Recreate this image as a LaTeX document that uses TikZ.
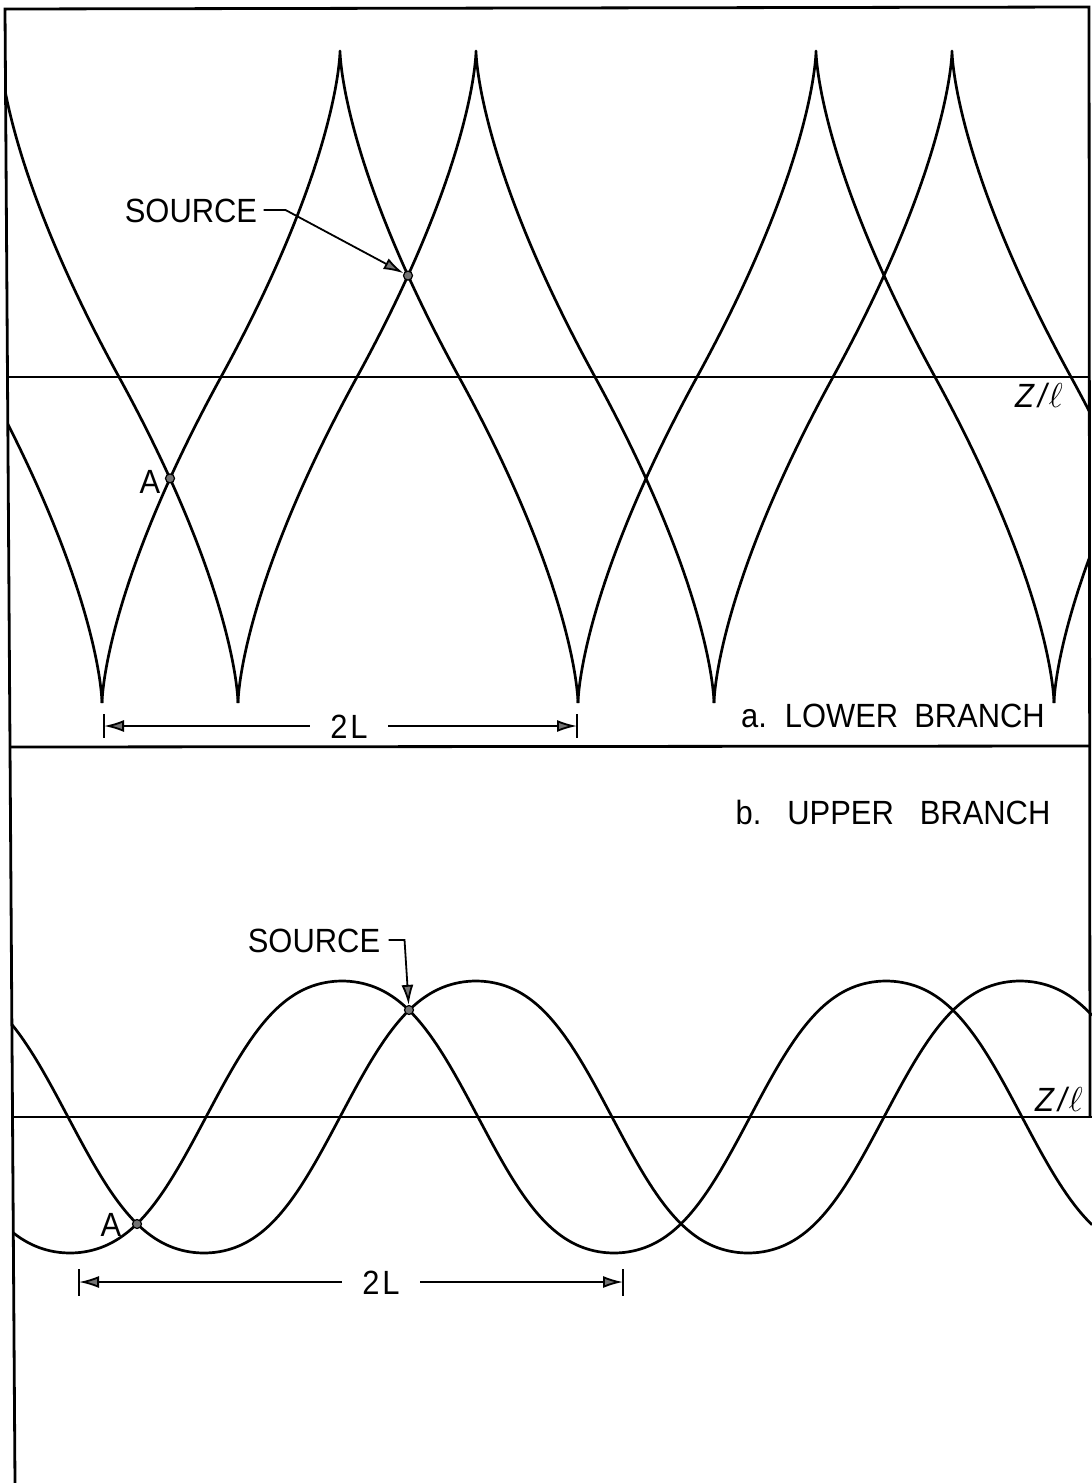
\documentclass[tikz,border=0pt]{standalone}
\usepackage{fontspec}
\setmainfont{Liberation Sans}[FakeStretch=0.92]
\usetikzlibrary{arrows.meta}
\tikzset{
  curve/.style={line width=1.35pt, line join=round},
  frame/.style={line width=1.4pt, line join=miter},
  zaxis/.style={line width=1pt},
  lbl/.style={inner sep=0pt, font=\fontsize{16.8}{18}\selectfont, text height=12pt, text depth=0pt},
  dimlbl/.style={lbl, inner xsep=10pt},
  lead/.style={line width=0.9pt, -{Latex[length=10pt,width=6pt,fill=black!55]}},
  dimline/.style={line width=0.9pt, -{Latex[length=10pt,width=6pt,fill=black!55]}},
  tickmark/.style={line width=1pt},
  crossdot/.style={circle, fill=black!55, draw=black, line width=0.6pt, inner sep=0pt, minimum size=4.5pt},
}
% one cuspidal arch: top cusp at x=#1 (y=51), bottom cusps at x=#1-238 and #1+238 (y=703)
\newcommand\cusparch[1]{%
  \draw[curve] ({#1-238},703) .. controls ({#1-238},703) and ({#1-238},594.33) .. ({#1-119},377)
    .. controls ({#1},159.67) and ({#1},51) .. ({#1},51)
    .. controls ({#1},51) and ({#1},159.67) .. ({#1+119},377)
    .. controls ({#1+238},594.33) and ({#1+238},703) .. ({#1+238},703);}
\begin{document}
\begin{tikzpicture}[x=0.5pt,y=-0.5pt]
\useasboundingbox (0,0) rectangle (1092,1483);
% frame
\coordinate (TL) at (5,9);
\coordinate (TR) at (1089,7);
\coordinate (BL) at (15,1483);
\coordinate (DL) at (10,747);
\coordinate (DR) at (1090,746);
\coordinate (RB) at (1090,1117);
\coordinate (CR) at (1092,747);
\coordinate (CB) at (1092,1483);
\draw[frame] (BL) -- (TL) -- (TR) -- (RB);
\draw[frame] (DL) -- (DR);
% axis lines
\coordinate (ZaL) at (6.2,377);
\coordinate (ZaR) at (1090,377);
\draw[zaxis] (ZaL) -- (ZaR);
\coordinate (ZbL) at (12.5,1117);
\coordinate (ZbR) at (1092,1117);
\draw[zaxis] (ZbL) -- (ZbR);
% panel a: lower branch
\begin{scope}
  \clip (TL) -- (TR) -- (DR) -- (DL) -- cycle;
  \foreach \t in {-136,0,340,476,816,952,1292} {\cusparch{\t}}
\end{scope}
% panel b: upper branch
\begin{scope}
  \clip (DL) -- (CR) -- (CB) -- (BL) -- cycle;
  \draw[curve] plot[domain=0:1092, samples=260, smooth]
    (\x, {1117+136*(1.05*cos((\x-70)/544*360)-0.05*cos((\x-70)/544*1080))});
  \draw[curve] plot[domain=0:1092, samples=260, smooth]
    (\x, {1117+136*(1.05*cos((\x-204)/544*360)-0.05*cos((\x-204)/544*1080))});
\end{scope}
% panel a labels
\node[crossdot] (srcA) at (408,275.6) {};
\node[lbl] (srcAlbl) at (191,210) {SOURCE};
\draw[lead] ([xshift=3pt]srcAlbl.east) -- ++(22,0) -- (srcA);
\node[crossdot] (ptA) at (170,478.4) {};
\node[lbl] (Albl) at (150,481) {A};
\node[lbl] (za) at (1039,395) {\textit{Z\kern2pt/\kern1pt}$\ell$};
\node[lbl] (capa) at (893,715) {a.\hspace{9pt}LOWER\hspace{8pt}BRANCH};
\node[dimlbl] (a2L) at (349,726) {2\hspace{1.5pt}L};
\coordinate (aL) at (104,726);
\coordinate (aR) at (577,726);
\coordinate (aLt) at (104,714);
\coordinate (aLb) at (104,738);
\coordinate (aRt) at (577,714);
\coordinate (aRb) at (577,738);
\draw[tickmark] (aLt) -- (aLb);
\draw[tickmark] (aRt) -- (aRb);
\draw[dimline] (a2L.west) -- (aL);
\draw[dimline] (a2L.east) -- (aR);
% panel b labels
\node[lbl] (capb) at (893,812) {b.\hspace{13pt}UPPER\hspace{13pt}BRANCH};
\node[crossdot] (srcB) at (409,1010) {};
\node[lbl] (srcBlbl) at (314,940) {SOURCE};
\draw[lead] ([xshift=4pt]srcBlbl.east) -- ++(16,0) -- (srcB);
\node[crossdot] (ptB) at (137,1224) {};
\node[lbl] (Blbl) at (111,1224) {A};
\node[lbl] (zb) at (1059,1099) {\textit{Z\kern2pt/\kern1pt}$\ell$};
\node[dimlbl] (b2L) at (381,1282) {2\hspace{1.5pt}L};
\coordinate (bL) at (79,1282);
\coordinate (bR) at (623,1282);
\coordinate (bLt) at (79,1269);
\coordinate (bLb) at (79,1296);
\coordinate (bRt) at (623,1269);
\coordinate (bRb) at (623,1296);
\draw[tickmark] (bLt) -- (bLb);
\draw[tickmark] (bRt) -- (bRb);
\draw[dimline] (b2L.west) -- (bL);
\draw[dimline] (b2L.east) -- (bR);
\end{tikzpicture}
\end{document}
